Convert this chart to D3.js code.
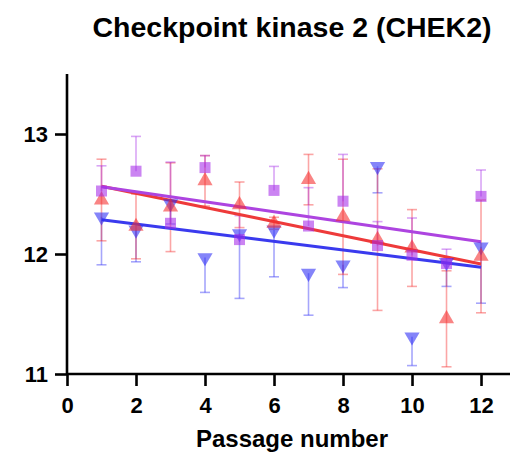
<!DOCTYPE html>
<html>
<head>
<meta charset="utf-8">
<script src="https://cdn.jsdelivr.net/npm/d3@7"></script>
<style>
  html, body { margin: 0; padding: 0; background: #fff; }
  svg { display: block; }
  text { font-family: "Liberation Sans", Arial, sans-serif; font-weight: bold; fill: #000; }
</style>
</head>
<body>
<svg id="chart" width="510" height="456"></svg>
<script>
// Passage numbers
const passages = [1, 2, 3, 4, 5, 6, 7, 8, 9, 10, 11, 12];

// Mean expression per passage, one array per series
const blueMeans   = [12.31, 12.20, 12.42, 11.97, 12.17, 12.20, 11.84, 11.91, 12.73, 11.31, 11.93, 12.06];
const redMeans    = [12.45, 12.23, 12.39, 12.61, 12.41, 12.256, 12.62, 12.31, 12.12, 12.05, 11.46, 11.98];
const purpleMeans = [12.525, 12.69, 12.256, 12.72, 12.12, 12.53, 12.233, 12.44, 12.07, 11.99, 11.92, 12.48];

// Error bar lengths (blue drawn below, purple above, red both ways)
const blueErr   = [0.40, 0.265, 0.17, 0.29, 0.54, 0.39, 0.35, 0.19, 0.22, 0.24, 0.20, 0.47];
const redErr    = [0.34, 0.27, 0.37, 0.21, 0.19, 0.05, 0.21, 0.48, 0.59, 0.32, 0.40, 0.47];
const purpleErr = [0.21, 0.29, 0.51, 0.10, 0.20, 0.20, 0.32, 0.39, 0.20, 0.31, 0.12, 0.22];

const xTicks = [0, 2, 4, 6, 8, 10, 12];
const yTicks = [11, 12, 13];

const series = [
  { name: "blue",   means: blueMeans,   err: blueErr,   dir: "down", color: "#2b2bf5", line: "#3a3aee", symbol: "down" },
  { name: "red",    means: redMeans,    err: redErr,    dir: "both", color: "#f52b2b", line: "#ee3a3a", symbol: "up" },
  { name: "purple", means: purpleMeans, err: purpleErr, dir: "up",   color: "#a52be8", line: "#ad44e0", symbol: "square" }
];

const svg = d3.select("#chart");
const x = d3.scaleLinear().domain([0, 12.84]).range([67, 510]);
const y = d3.scaleLinear().domain([11, 13.5]).range([374, 74]);

// Least-squares fit of the means
function fit(xs, ys) {
  const mx = d3.mean(xs), my = d3.mean(ys);
  let sxy = 0, sxx = 0;
  xs.forEach((v, i) => { sxy += (v - mx) * (ys[i] - my); sxx += (v - mx) * (v - mx); });
  const b = sxy / sxx;
  return { a: my - b * mx, b };
}

const plot = svg.append("g");

// Error bars
series.forEach(s => {
  const g = plot.append("g")
    .attr("stroke", s.color).attr("stroke-opacity", 0.42).attr("stroke-width", 1.6).attr("fill", "none");
  passages.forEach((p, i) => {
    const m = s.means[i], e = s.err[i];
    const lo = s.dir === "up" ? m : m - e;
    const hi = s.dir === "down" ? m : m + e;
    const cx = x(p);
    g.append("line").attr("x1", cx).attr("x2", cx).attr("y1", y(lo)).attr("y2", y(hi));
    if (s.dir !== "down") g.append("line").attr("x1", cx - 5).attr("x2", cx + 5).attr("y1", y(hi)).attr("y2", y(hi));
    if (s.dir !== "up") g.append("line").attr("x1", cx - 5).attr("x2", cx + 5).attr("y1", y(lo)).attr("y2", y(lo));
  });
});

// Regression lines over the passage range
series.forEach(s => {
  const f = fit(passages, s.means);
  const x0 = d3.min(passages), x1 = d3.max(passages);
  plot.append("line")
    .attr("x1", x(x0)).attr("y1", y(f.a + f.b * x0))
    .attr("x2", x(x1)).attr("y2", y(f.a + f.b * x1))
    .attr("stroke", s.line).attr("stroke-width", 3);
});

// Markers
const tri = d3.symbol().type(d3.symbolTriangle).size(100)();
series.forEach(s => {
  const g = plot.append("g").attr("fill", s.color).attr("fill-opacity", 0.58);
  passages.forEach((p, i) => {
    const cx = x(p), cy = y(s.means[i]);
    if (s.symbol === "square") {
      g.append("rect").attr("x", cx - 5.5).attr("y", cy - 5.5).attr("width", 11).attr("height", 11);
    } else {
      const rot = s.symbol === "down" ? 180 : 0;
      g.append("path").attr("d", tri).attr("transform", `translate(${cx},${cy}) rotate(${rot})`);
    }
  });
});

// Axes
const xAxis = svg.append("g").attr("transform", "translate(0,374)")
  .call(d3.axisBottom(x).tickValues(xTicks).tickSize(12).tickPadding(11).tickFormat(d3.format("d")));
const yAxis = svg.append("g").attr("transform", "translate(67,0)")
  .call(d3.axisLeft(y).tickValues(yTicks).tickSize(12).tickPadding(7).tickFormat(d3.format("d")));
[xAxis, yAxis].forEach(a => {
  a.select(".domain").attr("stroke", "#000").attr("stroke-width", 2.6);
  a.selectAll(".tick line").attr("stroke", "#000").attr("stroke-width", 2.6);
  a.selectAll(".tick text").style("font-size", "22px").style("font-family", "Liberation Sans, Arial, sans-serif").style("font-weight", "bold").attr("fill", "#000");
});
xAxis.select(".domain").attr("d", `M${x(0)},0H510`);
yAxis.select(".domain").attr("d", `M0,${y(13.5)}V${y(11)}`);

// Title and axis label
svg.append("text").attr("x", 292).attr("y", 37).attr("text-anchor", "middle")
  .style("font-size", "28.5px").text("Checkpoint kinase 2 (CHEK2)");
svg.append("text").attr("x", 292).attr("y", 447).attr("text-anchor", "middle")
  .style("font-size", "24px").text("Passage number");
</script>
</body>
</html>
